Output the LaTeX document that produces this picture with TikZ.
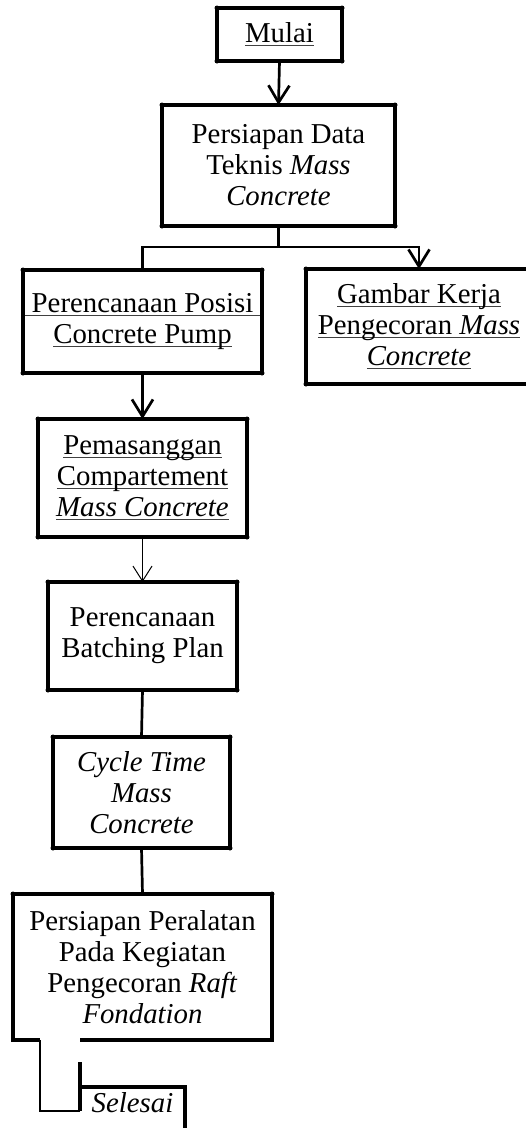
\documentclass[tikz,border=0pt]{standalone}
\usepackage{fontspec}
\setmainfont{Liberation Serif}
\usetikzlibrary{arrows.meta}
\newcommand{\uln}[1]{\setbox0\hbox{#1}\rlap{\color{black!75}\rule[-3.5pt]{\wd0}{0.9pt}}\box0}
\begin{document}
\begin{tikzpicture}[x=1pt,y=-1pt,
  boxnode/.style={inner sep=0pt, outer sep=0pt, align=center,
    font=\fontsize{28.8}{31}\selectfont},
  boxline/.style={line width=3.4pt},
  conn/.style={line width=2.7pt},
  thickarrow/.style={line width=2.7pt, -{Straight Barb[length=17pt,width=21pt]}},
  thinarrow/.style={line width=1pt, -{Straight Barb[length=15pt,width=19pt]}}]
\useasboundingbox (0,0) rectangle (526,1128);
\clip (0,0) rectangle (526,1128);
\fill[white] (0,0) rectangle (526,1128);

\node[boxnode, draw, boxline, minimum width=125pt, minimum height=53pt] (mulai) at (279.5,34.5) {\uln{Mulai}};
\node[boxnode, draw, boxline, minimum width=233pt, minimum height=121pt] (b2) at (278.5,165.5) {Persiapan Data\\Teknis \textit{Mass}\\\textit{Concrete}};
\node[boxnode, draw, boxline, minimum width=239pt, minimum height=103pt] (b3) at (142.5,321.5) {\uln{\ Perencanaan Posisi\ }\\\uln{Concrete Pump}};
\node[boxnode, draw, boxline, minimum width=226pt, minimum height=115pt] (b4) at (419,326.5) {\uln{Gambar Kerja}\\\uln{Pengecoran \textit{Mass}}\\\uln{\textit{Concrete}}};
\node[boxnode, draw, boxline, minimum width=209pt, minimum height=118pt] (b5) at (142.5,478) {\uln{Pemasanggan}\\\uln{Compartement}\\\uln{\textit{Mass Concrete}}};
\node[boxnode, draw, boxline, minimum width=189pt, minimum height=108pt] (b6) at (142.5,636) {Perencanaan\\Batching Plan};
\node[boxnode, draw, boxline, minimum width=177pt, minimum height=111pt] (b7) at (141.5,792.5) {\textit{Cycle Time}\\\textit{Mass}\\\textit{Concrete}};
\node[boxnode, minimum width=259pt, minimum height=146pt] (b8) at (142.5,967) {Persiapan Peralatan\\Pada Kegiatan\\Pengecoran \textit{Raft}\\\textit{Fondation}};
\node[boxnode, minimum width=105pt, minimum height=32pt] (sel) at (132.5,1103) {\textit{Selesai}};

% box 8 border with gap
\draw[boxline] ([xshift=27pt]b8.south west) -- (b8.south west) -- (b8.north west) -- (b8.north east) -- (b8.south east) -- (sel.north west |- b8.south);
% Selesai border (partial)
\draw[boxline] ([yshift=25pt]sel.north west) -- ([yshift=-24pt]sel.north west);
\draw[boxline] (sel.north west) -- (sel.north east) -- ++(0,45);

% corner dots
\foreach \n in {mulai,b2,b3,b4,b5,b6,b7}{
  \foreach \a in {north west,north east,south west,south east}{
    \fill (\n.\a) circle (2.5pt);
  }
}
\fill (b8.north west) circle (2.5pt);
\fill (b8.north east) circle (2.5pt);

% connectors
\draw[thickarrow] (mulai.south) -- (b2.north);
\draw[conn] (b2.south) -- ++(0,21) coordinate (br);
\draw[conn] (br) -| (b3.north);
\draw[thickarrow] (br) -| (b4.north);
\draw[thickarrow] (b3.south) -- (b5.north);
\draw[thinarrow] (b5.south) -- (b6.north);
\draw[conn] (b6.south) -- (b7.north);
\draw[conn] (b7.south) -- (b8.north);
\draw[conn] ([xshift=27pt]b8.south west) |- ([yshift=-24pt]sel.north west);
\end{tikzpicture}
\end{document}
